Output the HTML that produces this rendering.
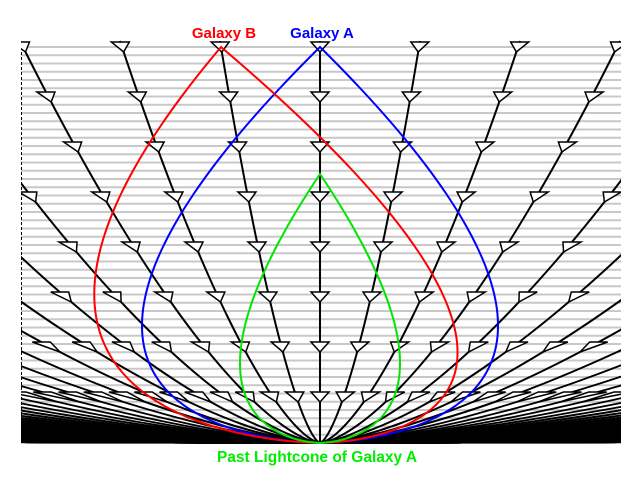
<!DOCTYPE html>
<html><head><meta charset="utf-8"><style>
html,body{margin:0;padding:0;background:#fff;width:640px;height:480px;overflow:hidden}
svg{display:block}
text{font-family:"Liberation Sans",Arial,sans-serif;font-weight:bold;font-size:15px}
</style></head><body>
<svg id="s" width="640" height="480" xmlns="http://www.w3.org/2000/svg">
<defs><clipPath id="c"><rect x="21" y="38" width="600" height="406"/></clipPath></defs>
<g id="grid"></g>
<line x1="21.5" y1="47" x2="21.5" y2="443" stroke="#000" stroke-width="1" stroke-dasharray="3,2"/>
<g id="wl" clip-path="url(#c)"></g>
<g id="cv" clip-path="url(#c)"></g>
<text x="224" y="38" fill="#ff0000" text-anchor="middle">Galaxy B</text>
<text x="322" y="38" fill="#0000ff" text-anchor="middle">Galaxy A</text>
<text x="317" y="462" fill="#00ee00" text-anchor="middle" style="font-size:15.5px">Past Lightcone of Galaxy A</text>
</svg>
<script>
var NS="http://www.w3.org/2000/svg";
function el(p,t,a){var e=document.createElementNS(NS,t);for(var k in a)e.setAttribute(k,a[k]);p.appendChild(e);return e;}
var grid=document.getElementById('grid'),wl=document.getElementById('wl'),cv=document.getElementById('cv');
for(var i=0;i<=48;i++){var y=47+i*8.25;el(grid,'line',{x1:21,x2:621,y1:y,y2:y,stroke:'#c8c8c8','stroke-width':2});}
function S(y){var s=(443-y)/396;return s<0?0:s;}
function A(y){return Math.pow(S(y),2/3);}
function X(n,y){return 320+n*99*A(y);}
for(var n=-220;n<=220;n++){
  var pts=[];
  for(var y=443;y>=41;y-=2){pts.push(X(n,y).toFixed(2)+","+y);}
  el(wl,'polyline',{points:pts.join(" "),fill:'none',stroke:'#000','stroke-width':Math.abs(n)>8?1.9:2});
}
var rows=[47,97,147,197,247,297,347,397];
for(var n=-40;n<=40;n++){
  rows.forEach(function(y){
    var xa=X(n,y+5),xt=X(n,y-5);
    if(xt<12||xt>630)return;
    el(wl,'polygon',{points:(xt-9)+","+(y-5)+" "+(xt+9)+","+(y-5)+" "+xa+","+(y+5),fill:'#fff',stroke:'#000','stroke-width':1.5});
  });
}
function h(s){return 6.75*Math.pow(s,2/3)*(1-Math.pow(s,1/3));}
function curve(fn,col,y0){
  var L=[],R=[];
  for(var y=y0;y<=443;y+=1){var r=fn(y);L.push(r[0].toFixed(2)+","+y);R.push(r[1].toFixed(2)+","+y);}
  el(cv,'polyline',{points:L.reverse().concat(R).join(" "),fill:'none',stroke:col,'stroke-width':2});
}
curve(function(y){var d=178*h(S(y));return [320-d,320+d];},'#0000ff',47);
curve(function(y){var b=320-99*A(y),d=178*h(S(y));return [b-d,b+d];},'#ff0000',47);
curve(function(y){var u=(443-y)/269;if(u<0)u=0;var d=80*h(u);return [320-d,320+d];},'#00e600',174);
</script>
</body></html>
